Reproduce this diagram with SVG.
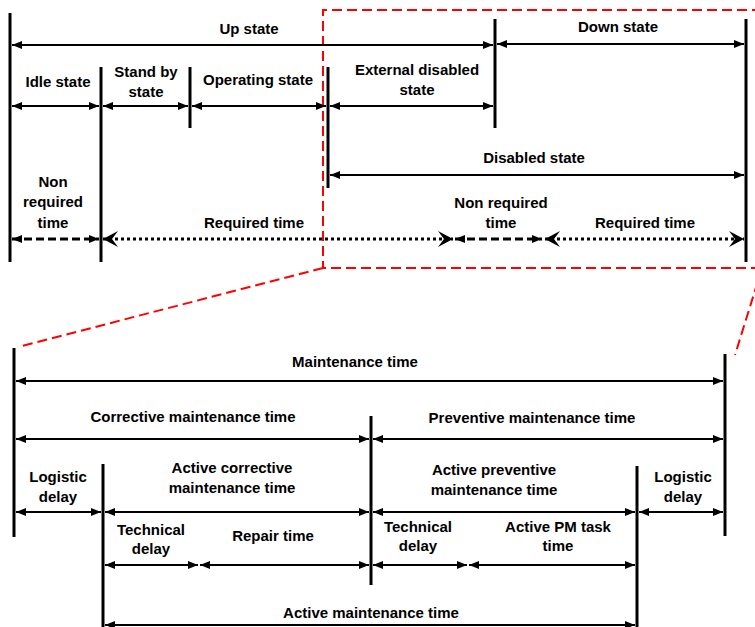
<svg xmlns="http://www.w3.org/2000/svg" width="755" height="627" viewBox="0 0 755 627">
<style>
text{font-family:"Liberation Sans",Arial,sans-serif;font-weight:bold;font-size:15px;fill:#000;text-anchor:middle}
.v{stroke:#000;stroke-width:3;fill:none}
.a{stroke:#000;stroke-width:2.2;fill:none;marker-start:url(#ah);marker-end:url(#ah)}
.dash{stroke:#000;stroke-width:3;fill:none;stroke-dasharray:8 4;marker-start:url(#ah);marker-end:url(#ah)}
.dot{stroke:#000;stroke-width:3;fill:none;stroke-dasharray:3 3;marker-start:url(#st);marker-end:url(#st)}
.red{stroke:#ff0000;stroke-width:2;fill:none;stroke-dasharray:10 5}
</style>
<defs>
<marker id="ah" viewBox="0 0 10 8" refX="10" refY="4" markerWidth="10" markerHeight="8" markerUnits="userSpaceOnUse" orient="auto-start-reverse">
<path d="M0,0 L10,4 L0,8 Z" fill="#000"/>
</marker>
<marker id="st" viewBox="0 0 15 16" refX="15" refY="8" markerWidth="15" markerHeight="16" markerUnits="userSpaceOnUse" orient="auto-start-reverse">
<path d="M0,0 L15,8 L0,16 L6,8 Z" fill="#000"/>
</marker>
</defs>

<g id="zoom-frame">
<path class="red" d="M762,10 L323,10 L323,268 L762,268"/>
<path class="red" d="M323,268 L18,347"/>
<path class="red" d="M762,268 L735,355"/>
</g>

<g id="boundaries">
<line class="v" x1="10" y1="13" x2="10" y2="262"/>
<line class="v" x1="101" y1="67" x2="101" y2="262"/>
<line class="v" x1="190" y1="67" x2="190" y2="128"/>
<line class="v" x1="328" y1="67" x2="328" y2="188"/>
<line class="v" x1="495" y1="19" x2="495" y2="128"/>
<line class="v" x1="746" y1="19" x2="746" y2="262"/>
<line class="v" x1="14" y1="348" x2="14" y2="537"/>
<line class="v" x1="725" y1="354" x2="725" y2="536"/>
<line class="v" x1="371" y1="416" x2="371" y2="585"/>
<line class="v" x1="103" y1="464" x2="103" y2="627"/>
<line class="v" x1="637" y1="466" x2="637" y2="627"/>
</g>

<g id="connectors">
<line class="a" x1="12" y1="45" x2="493" y2="45"/>
<line class="a" x1="497" y1="44" x2="744" y2="44"/>
<line class="a" x1="12" y1="106" x2="99" y2="106"/>
<line class="a" x1="103" y1="106" x2="188" y2="106"/>
<line class="a" x1="192" y1="106" x2="326" y2="106"/>
<line class="a" x1="330" y1="106" x2="493" y2="106"/>
<line class="a" x1="330" y1="175" x2="744" y2="175"/>
<line class="dash" x1="12" y1="239" x2="99" y2="239"/>
<line class="dot" x1="103" y1="239" x2="453" y2="239"/>
<line class="dash" x1="455" y1="239" x2="542" y2="239"/>
<line class="dot" x1="545" y1="239" x2="744" y2="239"/>

<line class="a" x1="16" y1="381" x2="723" y2="381"/>
<line class="a" x1="16" y1="439" x2="369" y2="439"/>
<line class="a" x1="373" y1="439" x2="723" y2="439"/>
<line class="a" x1="16" y1="512" x2="101" y2="512"/>
<line class="a" x1="105" y1="512" x2="369" y2="512"/>
<line class="a" x1="373" y1="512" x2="635" y2="512"/>
<line class="a" x1="639" y1="512" x2="723" y2="512"/>
<line class="a" x1="105" y1="565" x2="198" y2="565"/>
<line class="a" x1="200" y1="565" x2="369" y2="565"/>
<line class="a" x1="373" y1="565" x2="467" y2="565"/>
<line class="a" x1="469" y1="565" x2="635" y2="565"/>
<line class="a" x1="105" y1="625" x2="635" y2="625"/>
</g>

<g id="labels">
<text x="249" y="34">Up state</text>
<text x="618" y="32">Down state</text>
<text x="58" y="87">Idle state</text>
<text x="146" y="77">Stand by</text>
<text x="146" y="97">state</text>
<text x="258" y="85">Operating state</text>
<text x="417" y="75">External disabled</text>
<text x="417" y="95">state</text>
<text x="534" y="163">Disabled state</text>
<text x="53" y="187">Non</text>
<text x="53" y="207">required</text>
<text x="53" y="228">time</text>
<text x="254" y="228">Required time</text>
<text x="501" y="208">Non required</text>
<text x="501" y="228">time</text>
<text x="645" y="228">Required time</text>

<text x="355" y="367">Maintenance time</text>
<text x="193" y="422">Corrective maintenance time</text>
<text x="532" y="423">Preventive maintenance time</text>
<text x="58" y="482">Logistic</text>
<text x="58" y="502">delay</text>
<text x="232" y="473">Active corrective</text>
<text x="232" y="493">maintenance time</text>
<text x="494" y="475">Active preventive</text>
<text x="494" y="495">maintenance time</text>
<text x="683" y="482">Logistic</text>
<text x="683" y="502">delay</text>
<text x="151" y="535">Technical</text>
<text x="151" y="554">delay</text>
<text x="273" y="541">Repair time</text>
<text x="418" y="532">Technical</text>
<text x="418" y="551">delay</text>
<text x="558" y="532">Active PM task</text>
<text x="558" y="551">time</text>
<text x="371" y="618">Active maintenance time</text>
</g>
</svg>
